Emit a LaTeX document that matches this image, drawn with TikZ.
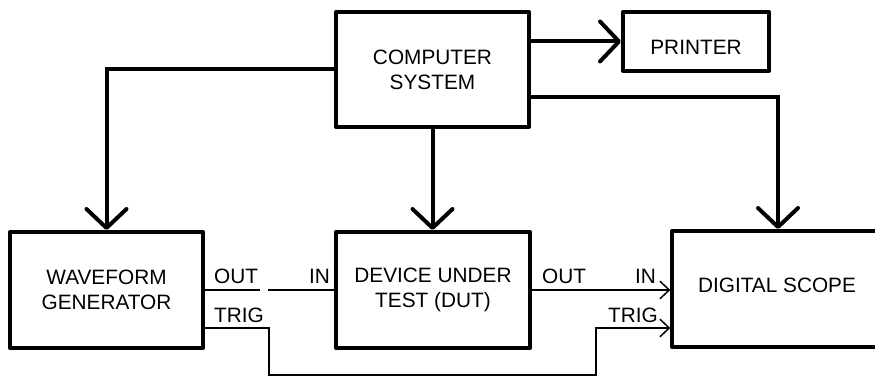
\documentclass[tikz,border=0pt]{standalone}
\usepackage{fontspec}
\setmainfont{Liberation Sans}
\usetikzlibrary{arrows.meta}
\begin{document}
\begin{tikzpicture}[x=1pt,y=-1pt,
  every node/.style={font=\fontsize{20.8}{25}\selectfont},
  blockbox/.style={draw,line width=4pt,line join=round,inner sep=0pt,align=center},
  plain/.style={inner sep=0pt},
  thickarrow/.style={line width=4pt,-{Straight Barb[length=19pt,width=40pt,round]}},
  thickline/.style={line width=4pt},
  thinline/.style={line width=1.5pt},
  thinarrow/.style={line width=1.5pt,-{Straight Barb[length=9pt,width=17pt,round]}}]
\path[fill=white,use as bounding box] (0,0) rectangle (875,377);

% blocks
\node[blockbox,minimum width=193pt,minimum height=115pt] (cs) at (432.5,69.5) {COMPUTER\\SYSTEM};
\node[blockbox,minimum width=146pt,minimum height=59pt] (pr) at (696,41.5) {};
\node[plain] (prt) at (696,47.5) {PRINTER};
\node[blockbox,minimum width=193pt,minimum height=116pt] (wg) at (106.5,290) {WAVEFORM\\GENERATOR};
\node[blockbox,minimum width=194pt,minimum height=116pt] (dut) at (433,290) {DEVICE UNDER\\TEST (DUT)};
\node[blockbox,minimum width=240pt,minimum height=116pt] (sc) at (792,289) {};
\node[plain] (sct) at (777,285) {DIGITAL SCOPE};

% thick connectors
\coordinate (scin) at (778,231);
\draw[thickarrow] (cs.west) -| (wg.north);
\draw[thickarrow] (cs.south) -- (cs.south |- dut.north);
\draw[thickarrow] (cs.east |- pr.west) -- (pr.west);
\draw[thickarrow] ([yshift=-27.5pt]cs.east) -| (scin |- sc.north);

% thin connectors
\coordinate (gapL) at (260,290);
\coordinate (gapR) at (268,290);
\draw[thinline] (wg.east) -- (gapL);
\draw[thinline] (gapR) -- (dut.west);
\draw[thinarrow] (dut.east) -- (dut.east -| sc.west);
\coordinate (trigA) at (269,375);
\coordinate (trigB) at (596,375);
\draw[thinarrow] ([yshift=-38pt]wg.east) -| (trigA) -- (trigB) |- ([yshift=-39pt]sc.west);

% port labels
\node[plain,anchor=base west] (l1) at (214,283) {OUT};
\node[plain,anchor=base west] (l2) at (214,322) {TRIG};
\node[plain,anchor=base east] (l3) at (330,283) {IN};
\node[plain,anchor=base west] (l4) at (542,283) {OUT};
\node[plain,anchor=base east] (l5) at (656,283) {IN};
\node[plain,anchor=base east] (l6) at (658,322) {TRIG};
\end{tikzpicture}
\end{document}
